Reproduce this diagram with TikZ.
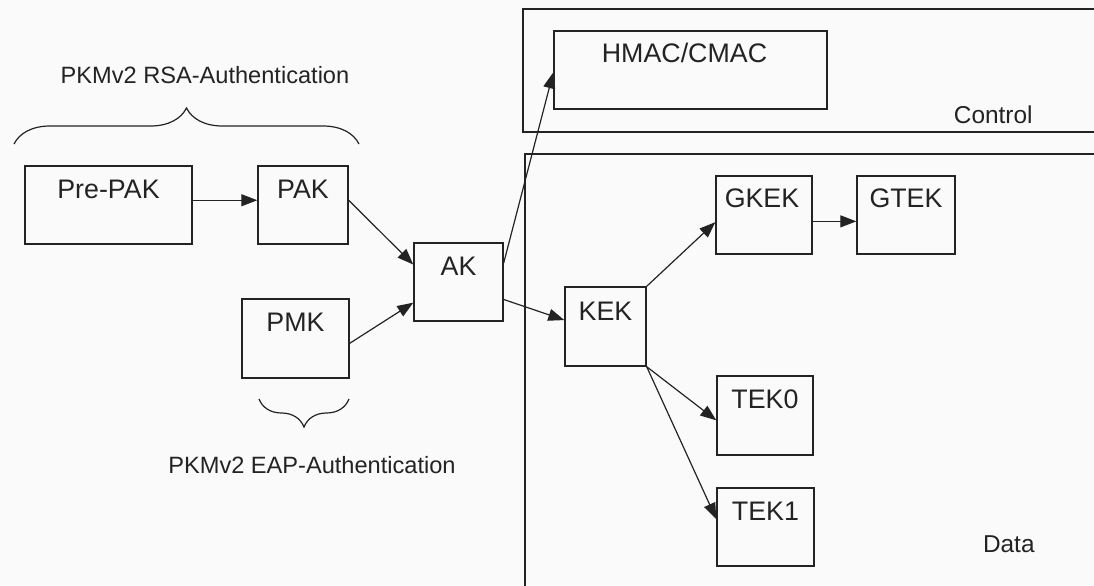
\documentclass[tikz,border=0pt]{standalone}
\usepackage{fontspec}
\setmainfont{Liberation Sans}
\usetikzlibrary{arrows.meta,calc,fit,decorations.pathreplacing}
\definecolor{ink}{RGB}{35,35,35}
\definecolor{paper}{RGB}{250,250,250}

\begin{document}
\begin{tikzpicture}[x=0.5pt,y=-0.5pt,
  kbox/.style={draw=ink, line width=0.7pt, inner sep=0pt},
  klabel/.style={font=\fontsize{13.4}{15}\selectfont, text=ink, inner sep=0pt, anchor=base},
  region/.style={draw=ink, line width=0.7pt},
  arr/.style={draw=ink, line width=0.6pt, -{Triangle[length=8pt,width=6pt]}},
  brlabel/.style={font=\fontsize{11.8}{14}\selectfont, text=ink, inner sep=0pt, anchor=base},
  tag/.style={font=\fontsize{12.2}{14}\selectfont, text=ink, inner sep=0pt, anchor=base east},
  brc/.style={draw=ink, line width=0.6pt, decorate, decoration={brace, amplitude=#1}}
]
\useasboundingbox (0,0) rectangle (1094,585);
\clip (0,0) rectangle (1094,585);
\fill[paper] (0,0) rectangle (1094,585);

% Control and Data planes (open to the right and bottom)
\draw[region] (523,9) rectangle (1110,132);
\draw[region] (525,154) rectangle (1110,600);
\node[tag] (ctrl) at (1033,123) {Control};
\node[tag] (data) at (1035,552) {Data};

% key boxes
\node[kbox, fit={(25,166) (192,244)}] (prepak) {};
\node[kbox, fit={(258,166) (348,244)}] (pak) {};
\node[kbox, fit={(242,299) (349,378)}] (pmk) {};
\node[kbox, fit={(414,243) (503,321)}] (ak) {};
\node[kbox, fit={(554,31) (827,109)}] (hmac) {};
\node[kbox, fit={(565,287) (646,366)}] (kek) {};
\node[kbox, fit={(716,176) (812,254)}] (gkek) {};
\node[kbox, fit={(857,176) (955,254)}] (gtek) {};
\node[kbox, fit={(717,376) (813,455)}] (tek0) {};
\node[kbox, fit={(717,488) (814,566)}] (tek1) {};

% box captions
\node[klabel] (prepak-t) at ($(prepak.north)+(0,33)$) {Pre-PAK};
\node[klabel] (pak-t) at ($(pak.north)+(0,33)$) {PAK};
\node[klabel] (pmk-t) at ($(pmk.north)+(0,33)$) {PMK};
\node[klabel] (ak-t) at ($(ak.north)+(0,33)$) {AK};
\node[klabel] (hmac-t) at ($(hmac.north)+(-6,32)$) {HMAC/CMAC};
\node[klabel] (kek-t) at ($(kek.north)+(0,34)$) {KEK};
\node[klabel] (gkek-t) at ($(gkek.north)+(-2,32)$) {GKEK};
\node[klabel] (gtek-t) at ($(gtek.north)+(0,32)$) {GTEK};
\node[klabel] (tek0-t) at ($(tek0.north)+(0,33)$) {TEK0};
\node[klabel] (tek1-t) at ($(tek1.north)+(0,33)$) {TEK1};

% derivation arrows
\draw[arr] ($(prepak.north east)!0.44!(prepak.south east)$) -- ($(pak.north west)!0.44!(pak.south west)$);
\draw[arr] ($(pak.north east)!0.44!(pak.south east)$) -- ($(ak.north west)!0.28!(ak.south west)$);
\draw[arr] ($(pmk.north east)!0.56!(pmk.south east)$) -- ($(ak.north west)!0.76!(ak.south west)$);
\draw[arr] ($(ak.north east)!0.26!(ak.south east)$) -- ($(hmac.north west)!0.53!(hmac.south west)$);
\draw[arr] ($(ak.north east)!0.72!(ak.south east)$) -- ($(kek.north west)!0.42!(kek.south west)$);
\draw[arr] (kek.north east) -- ($(gkek.north west)!0.59!(gkek.south west)$);
\draw[arr] ($(gkek.north east)!0.58!(gkek.south east)$) -- ($(gtek.north west)!0.58!(gtek.south west)$);
\draw[arr] (kek.south east) -- ($(tek0.north west)!0.56!(tek0.south west)$);
\draw[arr] (kek.south east) -- ($(tek1.north west)!0.40!(tek1.south west)$);

% authentication braces
\draw[brc=18pt] (14,144) -- (359,144);
\node[brlabel] (rsa) at (205,83) {PKMv2 RSA-Authentication};
\draw[brc=14pt] (349,399) -- (259,399);
\node[brlabel] (eap) at (312,473) {PKMv2 EAP-Authentication};
\end{tikzpicture}
\end{document}
